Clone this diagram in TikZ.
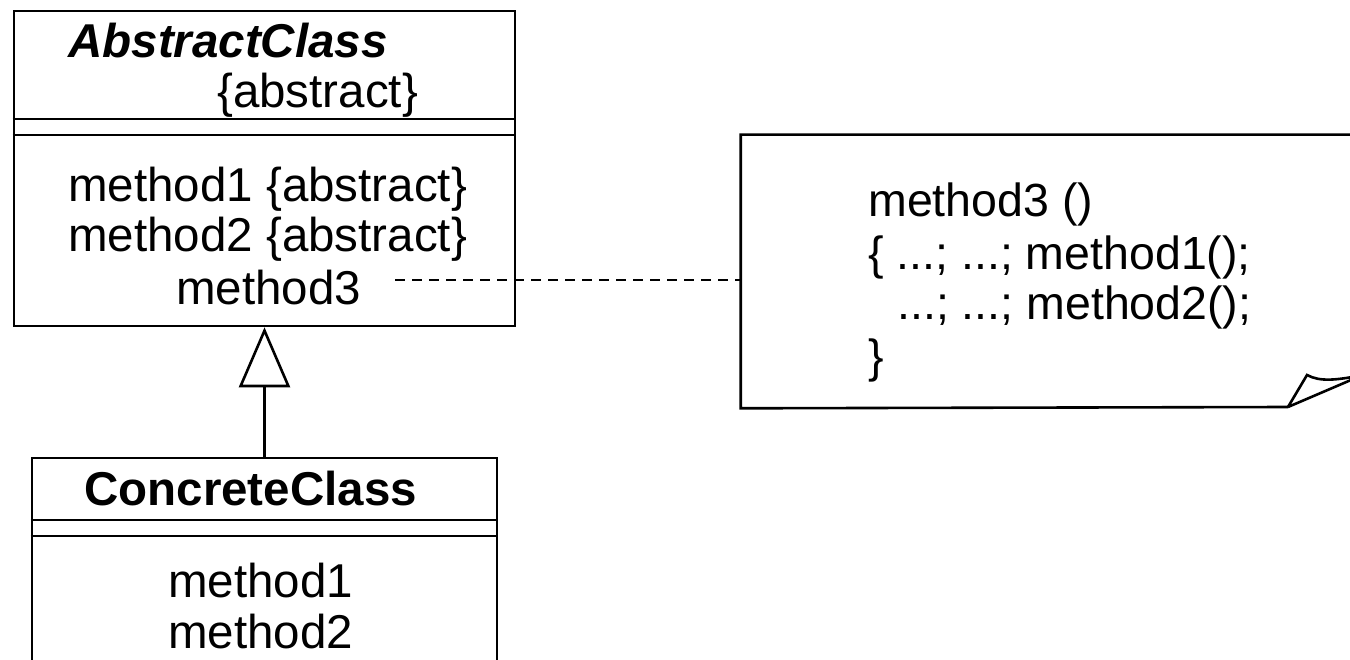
\documentclass[tikz,border=0pt]{standalone}
\usepackage{fontspec}
\setmainfont{Liberation Sans}
\usetikzlibrary{arrows.meta}
\begin{document}
\begin{tikzpicture}[x=1pt,y=-1pt,
  line width=2.6pt,
  umltext/.style={inner sep=0pt, anchor=base west, font=\fontsize{47.5}{53}\selectfont},
  codetext/.style={inner sep=0pt, anchor=base west, font=\fontsize{46.5}{53}\selectfont},
  classbox/.style={draw, rectangle, inner sep=0pt},
  assoc/.style={line width=2pt, dash pattern=on 10pt off 7pt},
  inherit/.style={-{Triangle[open, length=60pt, width=51pt]}},
]
\useasboundingbox (0,0) rectangle (1350,660);
\clip (0,0) rectangle (1350,660);

% Abstract class with its three compartments
\node[classbox, minimum width=501pt, minimum height=315pt] (abs) at (264.5,168.5) {};
\draw (abs.west |- 0,119) -- (abs.east |- 0,119);
\draw (abs.west |- 0,135) -- (abs.east |- 0,135);
\node[umltext, font=\fontsize{47.5}{53}\selectfont\bfseries\itshape] (absname) at (67,58) {AbstractClass};
\node[umltext] (absprop) at (216,108) {\{abstract\}};
\node[umltext] (am1) at (67,202) {method1 \{abstract\}};
\node[umltext] (am2) at (67,252) {method2 \{abstract\}};
\node[umltext] (am3) at (175,305) {method3};

% Concrete class (runs past the lower edge)
\node[classbox, minimum width=465pt, minimum height=262pt] (conc) at (264.5,589) {};
\draw (conc.west |- 0,520) -- (conc.east |- 0,520);
\draw (conc.west |- 0,536) -- (conc.east |- 0,536);
\node[umltext, font=\fontsize{47.5}{53}\selectfont\bfseries] (concname) at (83,505) {ConcreteClass};
\node[umltext] (cm1) at (167,597) {method1};
\node[umltext] (cm2) at (167,648) {method2};

% Generalization
\draw[inherit] (conc.north) -- (abs.south);

% Note with a curled lower-right corner
\node[rectangle, inner sep=0pt, minimum width=628pt, minimum height=271pt] (note) at (1056,271.5) {};
\draw (note.north east) -- (note.north west) -- (note.south west) -- (1288,407);
\coordinate (curl) at (1288,407);
\draw (curl) -- (1307,375) .. controls (1320,382) and (1336,380) .. (1358,376);
\draw (curl) -- (1358,377);
\node[codetext] (c1) at (867,217) {method3 ()};
\node[codetext] (c2) at (867,270) {\{ ...; ...; method1();};
\node[codetext] (c3) at (896,320) {...; ...; method2();};
\node[codetext] (c4) at (867,373) {\}};

% Attachment of the note to method3
\coordinate (m3tail) at (395,280);
\draw[assoc] (m3tail) -- (note.west |- m3tail);
\end{tikzpicture}
\end{document}
